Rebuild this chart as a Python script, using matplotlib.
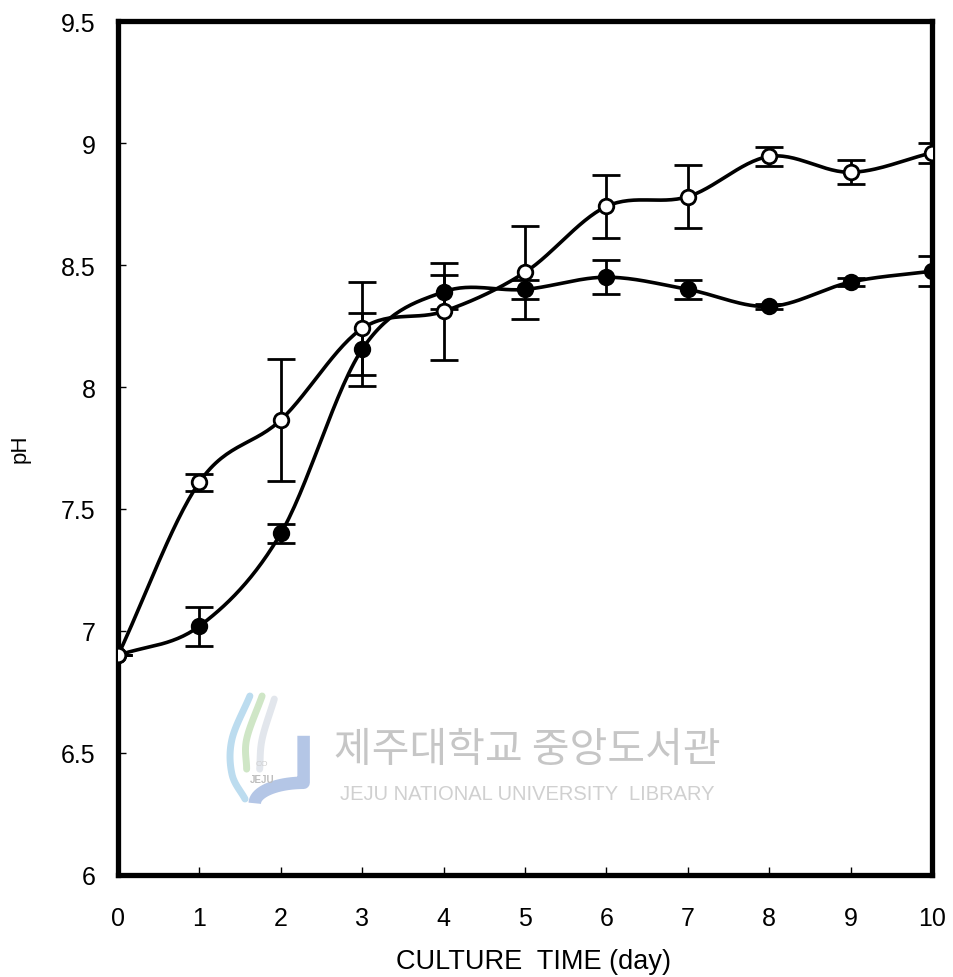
import numpy as np
import matplotlib
matplotlib.use("Agg")
import matplotlib.pyplot as plt

days = [0, 1, 2, 3, 4, 5, 6, 7, 8, 9, 10]
open_ph = [6.90, 7.61, 7.865, 8.24, 8.31, 8.47, 8.74, 8.78, 8.945, 8.88, 8.96]
open_err = [0.0, 0.035, 0.25, 0.19, 0.20, 0.19, 0.13, 0.13, 0.04, 0.05, 0.04]
filled_ph = [6.90, 7.02, 7.40, 8.155, 8.39, 8.40, 8.45, 8.40, 8.33, 8.43, 8.475]
filled_err = [0.0, 0.08, 0.04, 0.15, 0.07, 0.04, 0.07, 0.04, 0.01, 0.015, 0.06]
yticks = [6, 6.5, 7, 7.5, 8, 8.5, 9, 9.5]
ytick_labels = ["6", "6.5", "7", "7.5", "8", "8.5", "9", "9.5"]

plt.rcParams['font.family'] = ['Liberation Sans', 'DejaVu Sans']


def smooth(x, y, n=30):
    # Catmull-Rom spline through the points (for drawing the curve only)
    x = np.asarray(x, float)
    y = np.asarray(y, float)
    px = np.concatenate([[2 * x[0] - x[1]], x, [2 * x[-1] - x[-2]]])
    py = np.concatenate([[2 * y[0] - y[1]], y, [2 * y[-1] - y[-2]]])
    xs, ys = [], []
    t = np.linspace(0, 1, n, endpoint=False)
    for i in range(1, len(px) - 2):
        f = lambda a0, a1, a2, a3: 0.5 * ((2 * a1) + (-a0 + a2) * t +
                                          (2 * a0 - 5 * a1 + 4 * a2 - a3) * t ** 2 +
                                          (-a0 + 3 * a1 - 3 * a2 + a3) * t ** 3)
        xs.append(f(px[i - 1], px[i], px[i + 1], px[i + 2]))
        ys.append(f(py[i - 1], py[i], py[i + 1], py[i + 2]))
    xs.append([x[-1]])
    ys.append([y[-1]])
    return np.concatenate(xs), np.concatenate(ys)


fig = plt.figure(figsize=(9.54, 9.78), dpi=100)
ax = fig.add_axes([0.1237, 0.1043, 0.8533, 0.8732])

# watermark (library stamp)
ax.text(0.503, 0.1475, "제주대학교 중앙도서관", transform=ax.transAxes,
        fontsize=29.5, color="#c6c6c6", ha="center", va="center",
        family=['Noto Sans CJK KR', 'DejaVu Sans'], zorder=0)
ax.text(0.503, 0.095, "JEJU NATIONAL UNIVERSITY  LIBRARY", transform=ax.transAxes,
        fontsize=14.5, color="#d0d0d0", ha="center", va="center", zorder=0)
# logo sketch
jx = np.concatenate([np.full(20, 0.228), 0.228 - 0.06 * np.sin(np.linspace(0, np.pi / 2, 20))])
jy = np.concatenate([np.linspace(0.163, 0.108, 20), 0.108 - 0.024 * (1 - np.cos(np.linspace(0, np.pi / 2, 20)))])
ax.plot(jx, jy, transform=ax.transAxes, color="#b4c6e6", lw=9, solid_capstyle='butt', zorder=0)
for pts, col in [([(0.162, 0.2096), (0.140, 0.159), (0.140, 0.118), (0.156, 0.089)], "#bcdcef"),
                 ([(0.177, 0.2096), (0.158, 0.159), (0.158, 0.124)], "#cfe6c6"),
                 ([(0.192, 0.206), (0.177, 0.159), (0.174, 0.124)], "#e2e6ec")]:
    qx, qy = smooth([p[0] for p in pts], [p[1] for p in pts])
    ax.plot(qx, qy, transform=ax.transAxes, color=col, lw=5, solid_capstyle='round', zorder=0)
ax.text(0.177, 0.112, "JEJU", transform=ax.transAxes, fontsize=7, color="#bdbdbd",
        ha="center", va="center", fontweight='bold', zorder=0)
ax.text(0.177, 0.13, "CO", transform=ax.transAxes, fontsize=6, color="#cfcfcf",
        ha="center", va="center", zorder=0)

for yv, ev, face in [(filled_ph, filled_err, 'black'), (open_ph, open_err, 'white')]:
    sx, sy = smooth(days, yv)
    ax.plot(sx, sy, color='black', lw=2.6, zorder=2)
    ax.errorbar(days, yv, yerr=ev, fmt='none', ecolor='black', elinewidth=2.0,
                capsize=10, capthick=2.0, zorder=3)
    ax.plot(days, yv, 'o', ms=10.5, mfc=face, mec='black', mew=2.0, zorder=4)

ax.set_xlim(0, 10)
ax.set_ylim(6, 9.5)
ax.set_xticks(days)
ax.set_xticklabels([str(d) for d in days])
ax.set_yticks(yticks)
ax.set_yticklabels(ytick_labels)
ax.tick_params(direction='in', length=6, width=1, labelsize=18, pad=16)
ax.tick_params(axis='x', pad=22)
for s in ax.spines.values():
    s.set_linewidth(3.8)

ax.set_xlabel("CULTURE  TIME (day)", fontsize=19.5, labelpad=12)
ax.xaxis.set_label_coords(0.51, -0.085)
ax.set_ylabel("pH", fontsize=16, labelpad=22)

fig.savefig("out.png", dpi=100)
